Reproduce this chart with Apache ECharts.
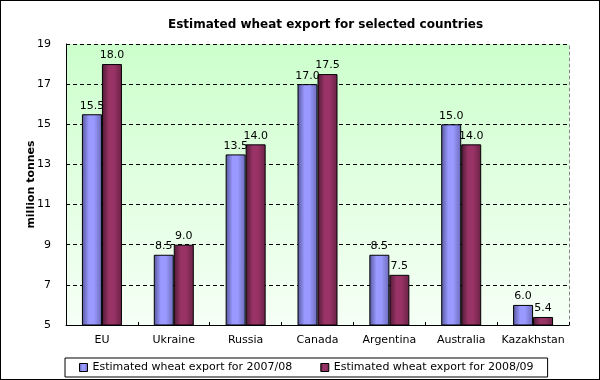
<!DOCTYPE html>
<html><head><meta charset="utf-8">
<script src="https://cdn.jsdelivr.net/npm/echarts@6/dist/echarts.min.js"></script>
<style>html,body{margin:0;padding:0;background:#fff}#c{width:600px;height:380px;box-sizing:border-box;border:1px solid #000}</style>
</head><body><div id="c"></div>
<script>
const categories = ['EU','Ukraine','Russia','Canada','Argentina','Australia','Kazakhstan'];
const export0708 = [15.5, 8.5, 13.5, 17.0, 8.5, 15.0, 6.0];
const export0809 = [18.0, 9.0, 14.0, 17.5, 7.5, 14.0, 5.4];
const seriesNames = ['Estimated wheat export for 2007/08','Estimated wheat export for 2008/09'];
const yTicks = {min:5, max:19, interval:2};

const font = 'Verdana, "DejaVu Sans", sans-serif';
function grad(c0,c1,c2,c3){return {type:'linear',x:0,y:0,x2:1,y2:0,colorStops:[{offset:0,color:c0},{offset:0.35,color:c1},{offset:0.6,color:c2},{offset:1,color:c3}]};}
const chart = echarts.init(document.getElementById('c'));
chart.setOption({
  animation:false,
  title:{text:'Estimated wheat export for selected countries',left:162,top:13,textStyle:{fontFamily:font,fontSize:12,fontWeight:'bold',color:'#000'}},
  grid:{left:65,right:30,top:43,bottom:54,show:true,borderWidth:0,
    backgroundColor:{type:'linear',x:0,y:0,x2:0,y2:1,colorStops:[{offset:0,color:'#ccffcc'},{offset:1,color:'#f6fff6'}]}},
  legend:{bottom:2,left:64,itemWidth:8,itemHeight:8,itemGap:28,padding:[4,14,4,14],
    borderColor:'#000',borderWidth:1,borderRadius:0,
    textStyle:{fontFamily:font,fontSize:11,color:'#000'},
    data:seriesNames.map(n=>({name:n,icon:'rect',itemStyle:{borderColor:'#000',borderWidth:1}}))},
  xAxis:{type:'category',data:categories,
    axisLine:{lineStyle:{color:'#000',width:1}},
    axisTick:{show:true,inside:true,length:3,lineStyle:{color:'#000'}},
    axisLabel:{interval:0,fontFamily:font,fontSize:11,color:'#000',margin:10}},
  yAxis:[{type:'value',min:yTicks.min,max:yTicks.max,interval:yTicks.interval,
    name:'million tonnes',nameLocation:'middle',nameGap:29,nameMoveOverlap:false,
    nameTextStyle:{fontFamily:font,fontSize:11,fontWeight:'bold',color:'#000'},
    axisLine:{show:true,lineStyle:{color:'#000'}},
    axisTick:{show:false},
    axisLabel:{fontFamily:font,fontSize:11,color:'#000',margin:15},
    splitLine:{show:true,lineStyle:{color:'#000',type:[4,3],width:1}}},
   {type:'value',min:yTicks.min,max:yTicks.max,interval:yTicks.interval,position:'right',
    axisLine:{show:true,lineStyle:{color:'#888',type:[3,3]}},axisTick:{show:false},axisLabel:{show:false},splitLine:{show:false}}],
  series:[
    {name:seriesNames[0],type:'bar',data:export0708,barWidth:20,barGap:'0%',
     itemStyle:{color:grad('#55559a','#9999ff','#9999ff','#6a6ab8'),borderColor:'#000',borderWidth:1},
     label:{show:true,position:'top',distance:3,formatter:p=>p.value.toFixed(1),fontFamily:font,fontSize:11,color:'#000'}},
    {name:seriesNames[1],type:'bar',data:export0809,barWidth:20,
     itemStyle:{color:grad('#4e1a34','#993366','#993366','#6a2246'),borderColor:'#000',borderWidth:1},
     label:{show:true,position:'top',distance:3,formatter:p=>p.value.toFixed(1),fontFamily:font,fontSize:11,color:'#000'}}
  ]
});
</script></body></html>
